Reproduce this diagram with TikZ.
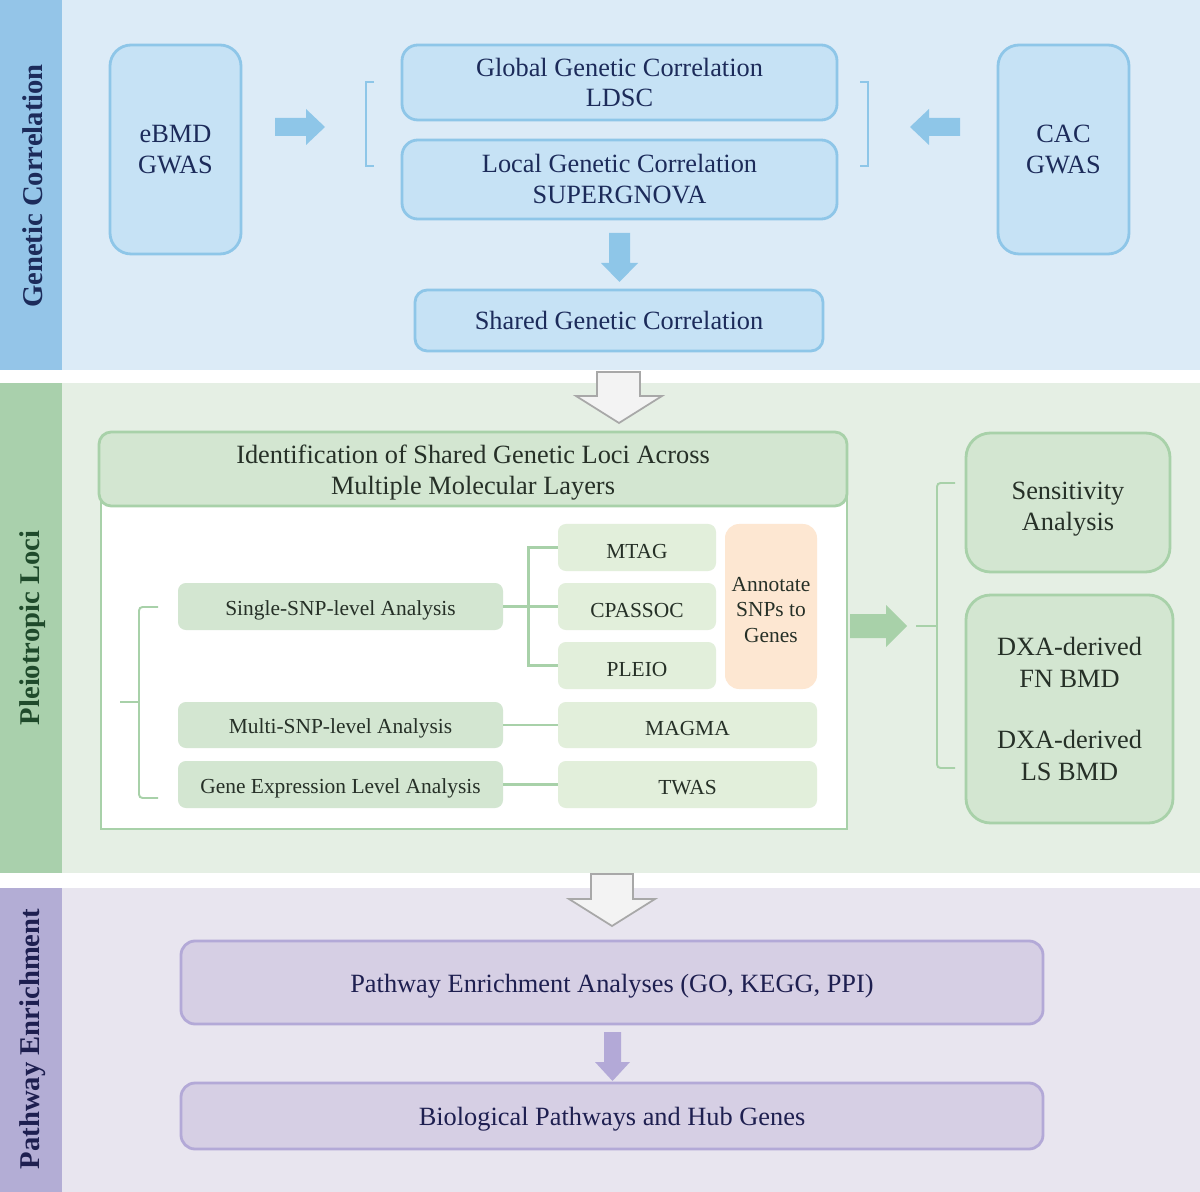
\documentclass[tikz,border=0pt]{standalone}
\usepackage{fontspec}
\setmainfont{Liberation Serif}
\usetikzlibrary{fit}

\definecolor{blueBg}{HTML}{DCEBF7}
\definecolor{blueSide}{HTML}{94C5E8}
\definecolor{blueFill}{HTML}{C6E2F5}
\definecolor{blueLine}{HTML}{8EC6E8}
\definecolor{blueText}{HTML}{1C2B5A}
\definecolor{greenBg}{HTML}{E5EFE4}
\definecolor{greenSide}{HTML}{A9D0AC}
\definecolor{greenFill}{HTML}{D3E6D1}
\definecolor{greenLight}{HTML}{E2EFDB}
\definecolor{greenLine}{HTML}{A8D1A9}
\definecolor{greenText}{HTML}{263027}
\definecolor{greenTitle}{HTML}{1F4A2B}
\definecolor{orangeFill}{HTML}{FDE7D2}
\definecolor{purpBg}{HTML}{E8E5EF}
\definecolor{purpSide}{HTML}{B3ADD5}
\definecolor{purpFill}{HTML}{D6CFE4}
\definecolor{purpLine}{HTML}{B3A9D7}
\definecolor{purpText}{HTML}{1E1F50}
\definecolor{grayFill}{HTML}{F3F3F3}
\definecolor{grayLine}{HTML}{A8A8A8}

\newcommand{\bodyfont}{\fontsize{15}{17.6}\selectfont}
\newcommand{\smallfont}{\fontsize{12.2}{14.5}\selectfont}
\newcommand{\sidefont}{\fontsize{16.3}{18}\selectfont\bfseries}

\tikzset{
  box/.style={inner sep=0pt, align=center, font=\bodyfont},
  lowtext/.style={yshift=-2pt},
  bluebox/.style={box, draw=blueLine, fill=blueFill, line width=1.6pt, text=blueText},
  greenbox/.style={box, draw=greenLine, fill=greenFill, line width=1.6pt, text=greenText},
  greensmall/.style={box, fill=greenFill, rounded corners=4.5pt, text=greenText, font=\smallfont},
  greentool/.style={greensmall, fill=greenLight},
  purpbox/.style={box, draw=purpLine, fill=purpFill, line width=1.6pt, text=purpText, rounded corners=8pt},
  sidetitle/.style={rotate=90, font=\sidefont, inner sep=0pt},
  gline/.style={draw=greenLine, line width=1.4pt},
  bline/.style={draw=blueLine, line width=1.1pt},
}

\begin{document}
\begin{tikzpicture}[x=0.02cm,y=-0.02cm]
\useasboundingbox (0,0) rectangle (1200,1192);

% section bands and side bars
\fill[white] (0,0) rectangle (1200,1192);
\fill[blueBg] (0,0) rectangle (1200,370);
\fill[blueSide] (0,0) rectangle (62,370);
\fill[greenBg] (0,383) rectangle (1200,873);
\fill[greenSide] (0,383) rectangle (62,873);
\fill[purpBg] (0,888) rectangle (1200,1192);
\fill[purpSide] (0,888) rectangle (62,1192);

\node[sidetitle, text=blueText] (t1) at (33,186) {Genetic Correlation};
\node[sidetitle, text=greenTitle] (t2) at (33,628) {Pleiotropic Loci};
\node[sidetitle, text=purpText] (t3) at (33,1039) {Pathway Enrichment};

% ---------- genetic correlation ----------
\node[bluebox, rounded corners=12pt, fit={(110,45) (241,254)}] (ebmd) {};
\node[box, text=blueText] at (ebmd.center) {eBMD\\GWAS};
\node[bluebox, rounded corners=12pt, fit={(998,45) (1129,254)}] (cac) {};
\node[box, text=blueText] at (cac.center) {CAC\\GWAS};
\node[bluebox, rounded corners=9pt, fit={(402,45) (837,120)}] (ldsc) {};
\node[box, text=blueText] at (ldsc.center) {Global Genetic Correlation\\LDSC};
\node[bluebox, rounded corners=9pt, fit={(402,140) (837,219)}] (sgn) {};
\node[box, text=blueText] at (sgn.center) {Local Genetic Correlation\\SUPERGNOVA};
\node[bluebox, rounded corners=7pt, fit={(415,290) (823,351)}] (shared) {};
\node[box, text=blueText] at (shared.center) {Shared Genetic Correlation};

% brackets around the two correlation methods
\draw[bline] (374,82) -- (366,82) -- (366,166) -- (374,166);
\draw[bline] (860,82) -- (868,82) -- (868,166) -- (860,166);

% block arrows
\fill[blueLine] (275,118) -- (306,118) -- (306,109) -- (325,127) -- (306,145) -- (306,136) -- (275,136) -- cycle;
\fill[blueLine] (960,118) -- (929,118) -- (929,109) -- (910,127) -- (929,145) -- (929,136) -- (960,136) -- cycle;
\fill[blueLine] (609,233) -- (630,233) -- (630,263) -- (638,263) -- (619.5,282) -- (601,263) -- (609,263) -- cycle;

% ---------- pleiotropic loci ----------
\draw[grayLine, fill=grayFill, line width=1pt, line join=miter]
  (597,372) -- (640,372) -- (640,396) -- (662,396) -- (619,423) -- (576,396) -- (597,396) -- cycle;

\draw[greenLine, fill=white, line width=1.6pt] (101,490) rectangle (847,829);
\node[greenbox, rounded corners=7pt, fit={(99,432) (847,506)}] (head) {};
\node[box, lowtext, text=greenText] at (head.center) {Identification of Shared Genetic Loci Across\\Multiple Molecular Layers};

\node[greensmall, fit={(178,583) (503,630)}] (single) {};
\node[box, lowtext, text=greenText, font=\smallfont] at (single.center) {Single-SNP-level Analysis};
\node[greensmall, fit={(178,702) (503,748)}] (multi) {};
\node[box, lowtext, text=greenText, font=\smallfont] at (multi.center) {Multi-SNP-level Analysis};
\node[greensmall, fit={(178,761) (503,808)}] (gexpr) {};
\node[box, lowtext, text=greenText, font=\smallfont] at (gexpr.center) {Gene Expression Level Analysis};

\node[greentool, fit={(558,524) (716,571)}] (mtag) {};
\node[box, lowtext, text=greenText, font=\smallfont] at (mtag.center) {MTAG};
\node[greentool, fit={(558,583) (716,630)}] (cpassoc) {};
\node[box, lowtext, text=greenText, font=\smallfont] at (cpassoc.center) {CPASSOC};
\node[greentool, fit={(558,642) (716,689)}] (pleio) {};
\node[box, lowtext, text=greenText, font=\smallfont] at (pleio.center) {PLEIO};
\node[greentool, fill=orangeFill, rounded corners=8pt, fit={(725,524) (817,689)}] (annot) {};
\node[box, lowtext, text=greenText, font=\smallfont] at (annot.center) {Annotate\\SNPs to\\Genes};
\node[greentool, fit={(558,702) (817,748)}] (magma) {};
\node[box, lowtext, text=greenText, font=\smallfont] at (magma.center) {MAGMA};
\node[greentool, fit={(558,761) (817,808)}] (twas) {};
\node[box, lowtext, text=greenText, font=\smallfont] at (twas.center) {TWAS};

% tree connectors
\draw[gline] (single.east) -- (cpassoc.west);
\draw[gline] (mtag.west) -- ++(-29,0) |- (pleio.west);
\draw[gline] (multi.east) -- (magma.west);
\draw[gline] (gexpr.east) -- (twas.west);

% left brace
\draw[gline, line width=1.1pt, rounded corners=2pt] (158,607) -- (139,607) -- (139,798) -- (158,798);
\draw[gline, line width=1.1pt] (139,702) -- (120,702);

% arrow to validation
\fill[greenLine] (850,614) -- (886,614) -- (886,605) -- (907,626) -- (886,647) -- (886,638) -- (850,638) -- cycle;

% right brace
\draw[gline, line width=1.1pt, rounded corners=2pt] (955,483) -- (937,483) -- (937,768) -- (955,768);
\draw[gline, line width=1.1pt] (937,626) -- (916,626);

\node[greenbox, rounded corners=14pt, fit={(966,433) (1170,572)}] (sens) {};
\node[box, text=greenText] at ([yshift=-4pt]sens.center) {Sensitivity\\Analysis};
\node[greenbox, rounded corners=14pt, fit={(966,595) (1173,823)}] (dxa) {};
\node[box, text=greenText, font=\fontsize{15}{18.2}\selectfont] at (dxa.center) {DXA-derived\\FN BMD\\[16pt]DXA-derived\\LS BMD};

% ---------- pathway enrichment ----------
\draw[grayLine, fill=grayFill, line width=1pt, line join=miter]
  (591,874) -- (633,874) -- (633,899) -- (655,899) -- (612,926) -- (569,899) -- (591,899) -- cycle;

\node[purpbox, fit={(181,941) (1043,1024)}] (pea) {};
\node[box, lowtext, text=purpText] at (pea.center) {Pathway Enrichment Analyses (GO, KEGG, PPI)};
\node[purpbox, fit={(181,1083) (1043,1149)}] (bio) {};
\node[box, lowtext, text=purpText] at (bio.center) {Biological Pathways and Hub Genes};

\fill[purpLine] (604,1032) -- (621,1032) -- (621,1062) -- (630,1062) -- (612.5,1081) -- (595,1062) -- (604,1062) -- cycle;

\end{tikzpicture}
\end{document}
